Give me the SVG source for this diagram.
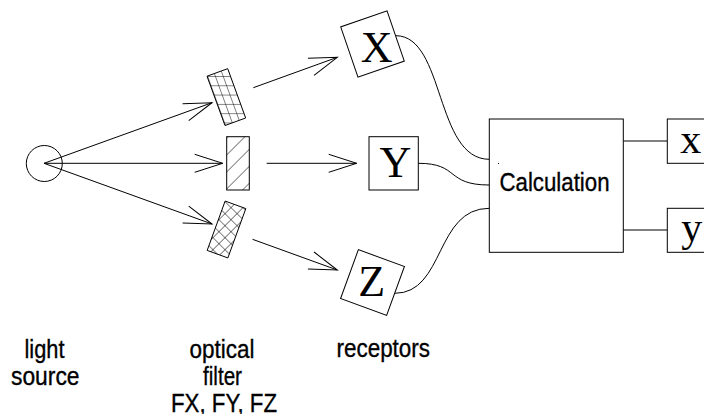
<svg xmlns="http://www.w3.org/2000/svg" width="704" height="414" viewBox="0 0 704 414">
<style>
.s{fill:none;stroke:#000;stroke-width:1}
.b{fill:#fff;stroke:#000;stroke-width:1}
.lbl{font-family:"Liberation Sans",Arial,sans-serif;font-size:26px;fill:#000;stroke:#000;stroke-width:0.35}
.ser{font-family:"Liberation Serif","Times New Roman",serif;font-size:44px;fill:#000;text-anchor:middle}
</style>
<defs>
<marker id="arr" markerUnits="userSpaceOnUse" markerWidth="32" markerHeight="22" viewBox="-30 -11 32 22" refX="0" refY="0" orient="auto">
<path d="M-28,-9 L0,0 L-28,9" fill="none" stroke="#000" stroke-width="1"/>
</marker>
<pattern id="grid" patternUnits="userSpaceOnUse" width="7.8" height="9.3" patternTransform="translate(207,76) skewX(20)">
<path d="M0,0 V9.3 M0,0 H7.8" fill="none" stroke="#000" stroke-width="1"/>
</pattern>
<pattern id="diag" patternUnits="userSpaceOnUse" width="12" height="12" patternTransform="translate(227,137) rotate(45)">
<path d="M0,0 V12" fill="none" stroke="#000" stroke-width="1"/>
</pattern>
<pattern id="cross" patternUnits="userSpaceOnUse" width="8.5" height="8.5" patternTransform="translate(225,201) rotate(45)">
<path d="M0,0 V8.5 M0,0 H8.5" fill="none" stroke="#000" stroke-width="1"/>
</pattern>
</defs>

<g id="connectors">
<line class="s" x1="44" y1="163.3" x2="212" y2="102.7" marker-end="url(#arr)"/>
<line class="s" x1="44" y1="163.3" x2="222.7" y2="163.3" marker-end="url(#arr)"/>
<line class="s" x1="44" y1="163.3" x2="212" y2="224" marker-end="url(#arr)"/>
<line class="s" x1="253.3" y1="87.7" x2="337.3" y2="57.3" marker-end="url(#arr)"/>
<line class="s" x1="266.7" y1="163.3" x2="356.7" y2="163.3" marker-end="url(#arr)"/>
<line class="s" x1="252.5" y1="239.3" x2="337.3" y2="270" marker-end="url(#arr)"/>
<path class="s" d="M396,35.7 C445,36 435,159.3 489.3,159.3"/>
<path class="s" d="M418.3,163.3 C460,163.3 445,185 489.3,185"/>
<path class="s" d="M394.8,293.3 C445,293.3 435,208.3 489.3,208.3"/>
<path class="s" d="M623.3,141 H667.3 M623.3,230 H667.3"/>
</g>

<g id="light-source">
<circle class="s" cx="44.3" cy="163.5" r="18"/>
</g>

<g id="filter-fx">
<polygon points="207.03,76.19 227.71,68.67 245.67,118.01 224.99,125.53" fill="url(#grid)" stroke="#000" stroke-width="1"/>
</g>
<g id="filter-fy">
<rect x="226.7" y="136.7" width="22.6" height="53.3" fill="url(#diag)" stroke="#000" stroke-width="1"/>
</g>
<g id="filter-fz">
<polygon points="225.14,201.07 245.82,208.59 227.86,257.93 207.18,250.41" fill="url(#cross)" stroke="#000" stroke-width="1"/>
</g>

<g id="receptor-x">
<rect class="b" x="-24.5" y="-26.5" width="49" height="53" transform="translate(372.5,44) rotate(-19)"/>
<text class="ser" x="376.7" y="61.7">X</text>
</g>
<g id="receptor-y">
<rect class="b" x="369" y="136.7" width="49.3" height="53.3"/>
<text class="ser" x="395.5" y="177.3">Y</text>
</g>
<g id="receptor-z">
<rect class="b" x="-24.5" y="-26" width="49" height="52" transform="translate(372.5,282.5) rotate(20)"/>
<text class="ser" x="371.7" y="296">Z</text>
</g>

<g id="calculation">
<rect class="b" x="489.3" y="119" width="134" height="133.3"/>
<rect x="498" y="163" width="1" height="1" fill="#000"/>
<text class="lbl" x="499.5" y="191" textLength="110" lengthAdjust="spacingAndGlyphs">Calculation</text>
</g>

<g id="out-x">
<rect class="b" x="667.3" y="119" width="60" height="44.3"/>
<text class="ser" x="690.7" y="152.5" style="font-size:42px">x</text>
</g>
<g id="out-y">
<rect class="b" x="667.3" y="208.3" width="60" height="44"/>
<text class="ser" x="691.7" y="241" style="font-size:42px">y</text>
</g>

<g id="labels">
<text class="lbl" x="24.5" y="358.3" textLength="40" lengthAdjust="spacingAndGlyphs">light</text>
<text class="lbl" x="11" y="384.5" textLength="68.5" lengthAdjust="spacingAndGlyphs">source</text>
<text class="lbl" x="189.5" y="358.3" textLength="65" lengthAdjust="spacingAndGlyphs">optical</text>
<text class="lbl" x="203" y="385" textLength="39" lengthAdjust="spacingAndGlyphs">filter</text>
<text class="lbl" x="171" y="411.5" textLength="106" lengthAdjust="spacingAndGlyphs">FX, FY, FZ</text>
<text class="lbl" x="336.5" y="357.3" textLength="93.5" lengthAdjust="spacingAndGlyphs">receptors</text>
</g>
</svg>
